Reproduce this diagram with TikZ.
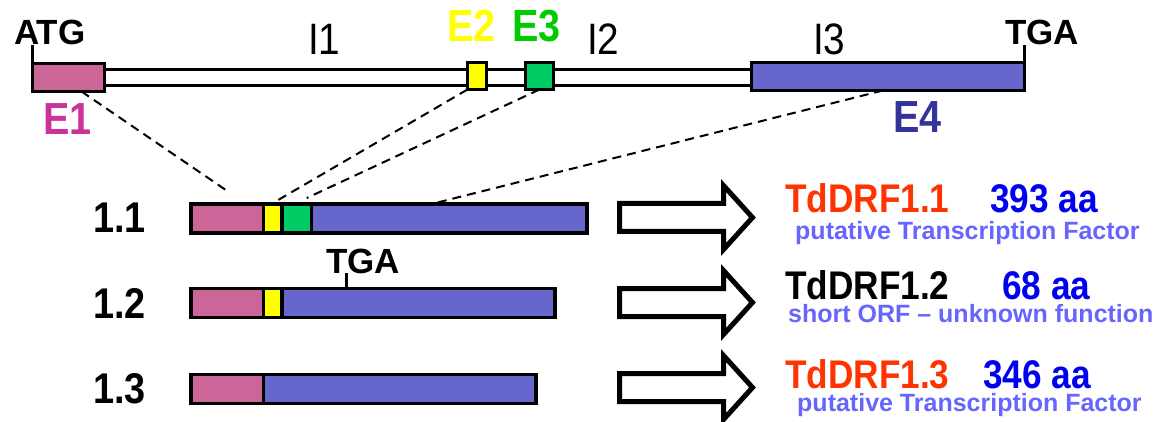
\documentclass[tikz,border=0pt]{standalone}
\usepackage{fontspec}
\setmainfont{Liberation Sans}
\newfontfamily\narrowsf[FakeStretch=0.88]{Liberation Sans}
\usetikzlibrary{positioning, calc}

\definecolor{exonpink}{RGB}{204, 102, 153}
\definecolor{exonyellow}{RGB}{255, 255, 0}
\definecolor{exongreen}{RGB}{0, 204, 102}
\definecolor{exonblue}{RGB}{102, 102, 204}
\definecolor{lblpink}{RGB}{204, 51, 153}
\definecolor{lblgreen}{RGB}{0, 204, 0}
\definecolor{lblblue}{RGB}{51, 51, 153}
\definecolor{protred}{RGB}{255, 51, 0}
\definecolor{aablue}{RGB}{0, 0, 240}
\definecolor{noteblue}{RGB}{102, 102, 255}

\tikzset{
  exonbox/.style={draw, line width=3pt, inner sep=0pt, outer sep=0pt},
  seg/.style={draw, line width=3.5pt, inner sep=0pt, outer sep=0pt, minimum height=29},
  codon/.style={font=\bfseries\fontsize{35}{35}\selectfont, inner sep=0pt, anchor=base west},
  exonlbl/.style={font=\narrowsf\bfseries\fontsize{45}{45}\selectfont, inner sep=0pt, anchor=base west},
  intronlbl/.style={font=\narrowsf\fontsize{44}{44}\selectfont, inner sep=0pt, anchor=base west},
  isolbl/.style={font=\narrowsf\bfseries\fontsize{43}{43}\selectfont, inner sep=0pt, anchor=base west},
  protlbl/.style={font=\narrowsf\bfseries\fontsize{40}{40}\selectfont, inner sep=0pt, anchor=base west},
  note/.style={font=\bfseries\fontsize{25}{25}\selectfont, text=noteblue, inner sep=0pt, anchor=base west},
  tick/.style={line width=3pt},
  exonlink/.style={line width=2pt, dash pattern=on 9pt off 6pt},
  fatarrow/.pic={
    \draw[line width=5pt, fill=white, miter limit=10]
      (0,-14) -- (104,-14) -- (104,-32) -- (133,0) -- (104,32) -- (104,14) -- (0,14) -- cycle;
  }
}

\begin{document}
\begin{tikzpicture}[x=1pt, y=-1pt]
  \useasboundingbox (0,0) rectangle (1162,422);

  % gene model
  \node[exonbox, fill=white, minimum width=647, minimum height=16] (intron) at (428,77.5) {};
  \node[exonbox, fill=exonpink, minimum width=72, minimum height=28] (e1) at (68.5,77.5) {};
  \node[exonbox, fill=exonyellow, minimum width=19, minimum height=27] (e2) at (477,76) {};
  \node[exonbox, fill=exongreen, minimum width=28, minimum height=27] (e3) at (539.5,76) {};
  \node[exonbox, fill=exonblue, minimum width=273, minimum height=28] (e4) at (888,76.5) {};

  \node[codon] (atg) at (14,45) {ATG};
  \node[codon] (tgatop) at (1005,45) {TGA};
  \draw[tick] (e1.north west) -- (e1.north west |- atg.base);
  \draw[tick] (e4.north east) -- (e4.north east |- tgatop.base);

  \node[intronlbl] (i1) at (308,55) {I1};
  \node[intronlbl] (i2) at (587,55) {I2};
  \node[intronlbl] (i3) at (813,55) {I3};

  \node[exonlbl, text=lblpink] (e1lbl) at (43,135) {E1};
  \node[exonlbl, text=exonyellow] (e2lbl) at (447,42) {E2};
  \node[exonlbl, text=lblgreen] (e3lbl) at (512,42) {E3};
  \node[exonlbl, text=lblblue] (e4lbl) at (893,133) {E4};

  % transcripts
  \node[seg, fill=exonpink, minimum width=72.5, anchor=west] (t1e1) at (191,218.5) {};
  \node[seg, fill=exonyellow, minimum width=18.5, right=0pt of t1e1] (t1e2) {};
  \node[seg, fill=exongreen, minimum width=29.5, right=0pt of t1e2] (t1e3) {};
  \node[seg, fill=exonblue, minimum width=275.5, right=0pt of t1e3] (t1e4) {};

  \node[seg, fill=exonpink, minimum width=72.5, anchor=west] (t2e1) at (191,303) {};
  \node[seg, fill=exonyellow, minimum width=18.5, right=0pt of t2e1] (t2e2) {};
  \node[seg, fill=exonblue, minimum width=273, right=0pt of t2e2] (t2e4) {};

  \node[seg, fill=exonpink, minimum width=72.5, anchor=west] (t3e1) at (191,389) {};
  \node[seg, fill=exonblue, minimum width=272.5, right=0pt of t3e1] (t3e4) {};

  \node[isolbl] (iso1) at (93,233) {1.1};
  \node[isolbl] (iso2) at (93,318) {1.2};
  \node[isolbl] (iso3) at (93,403) {1.3};

  \node[codon] (tgamid) at (326,273) {TGA};
  \coordinate (stop2) at ($(t2e4.north west)+(64,0)$);
  \draw[tick] (stop2) -- (stop2 |- tgamid.base);

  % exon correspondence
  \draw[exonlink] ($(e1.south)+(13,0)$) -- ($(t1e1.north)+(0,-13)$);
  \draw[exonlink] (e2.south west) -- ($(t1e2.north)+(2,-2)$);
  \draw[exonlink] (e3.south) -- ($(t1e3.north)+(10,-6)$);
  \draw[exonlink] ($(e4.south)+(-5,0)$) -- ($(t1e4.north west)+(120,0)$);

  % products
  \pic (arr1) at (619.5,217.5) {fatarrow};
  \pic (arr2) at (619.5,302.5) {fatarrow};
  \pic (arr3) at (619.5,387.5) {fatarrow};

  \node[protlbl, text=protred] (prot1) at (785,213) {TdDRF1.1};
  \node[protlbl, text=aablue] (len1) at (990,213) {393 aa};
  \node[note] (note1) at (795,240) {putative Transcription Factor};

  \node[protlbl] (prot2) at (785,299) {TdDRF1.2};
  \node[protlbl, text=aablue] (len2) at (1002,299) {68 aa};
  \node[note] (note2) at (788,322) {short ORF -- unknown function};

  \node[protlbl, text=protred] (prot3) at (785,388) {TdDRF1.3};
  \node[protlbl, text=aablue] (len3) at (983,388) {346 aa};
  \node[note] (note3) at (797,411) {putative Transcription Factor};
\end{tikzpicture}
\end{document}
